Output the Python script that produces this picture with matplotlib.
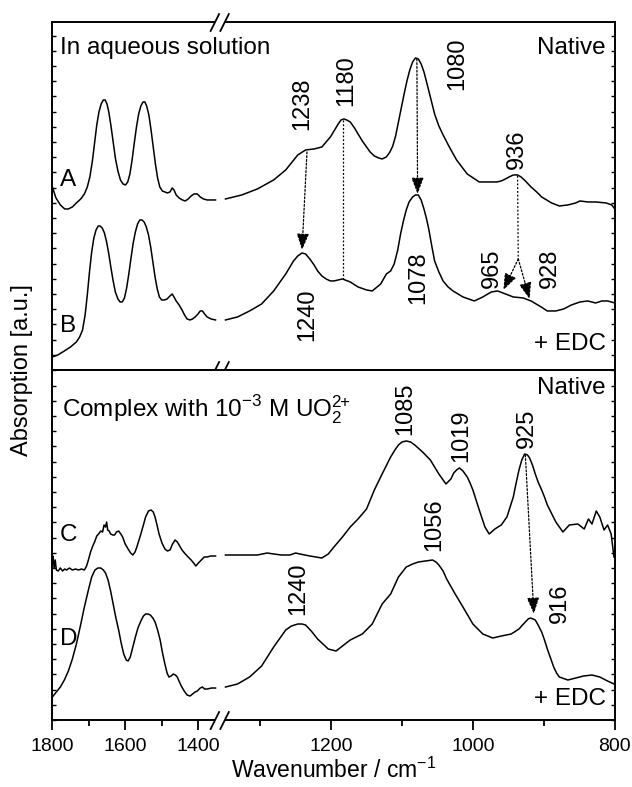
import numpy as np
import matplotlib
matplotlib.use("Agg")
import matplotlib.pyplot as plt
from matplotlib.path import Path

plt.rcParams['font.family'] = ['Liberation Sans', 'DejaVu Sans']
plt.rcParams['mathtext.fontset'] = 'custom'
plt.rcParams['mathtext.rm'] = 'Liberation Sans'

# spectra: wavenumber (cm-1) / absorption (a.u.)
# each trace is split in a part left and a part right of the axis break
a_left_x = [1800, 1790, 1778, 1766, 1756, 1745, 1734, 1722, 1712, 1704, 1697, 1690, 1684, 1678, 1672,
            1666, 1660, 1655, 1650, 1645, 1639, 1633, 1627, 1620, 1613, 1606, 1599, 1593, 1587, 1581,
            1575, 1569, 1563, 1557, 1551, 1546, 1541, 1535, 1529, 1523, 1517, 1511, 1505, 1498, 1491,
            1484, 1477, 1471, 1466, 1460, 1452, 1443, 1435, 1427, 1419, 1411, 1402, 1394, 1385, 1375,
            1362, 1352]
a_left_y = [18.3, 17.2, 16.5, 16.1, 16.1, 16.3, 16.7, 17.1, 17.6, 18.3, 19.3, 20.9, 22.7, 24.5, 25.8,
            26.6, 27.0, 27.0, 26.6, 25.8, 24.4, 22.8, 21.2, 19.9, 19.0, 18.6, 18.5, 18.8, 19.6, 21.0,
            22.7, 24.3, 25.6, 26.4, 26.8, 26.8, 26.4, 25.5, 24.0, 22.3, 20.6, 19.2, 18.3, 17.9, 17.8,
            17.7, 17.8, 18.2, 18.0, 17.5, 17.2, 17.0, 16.9, 17.1, 17.4, 17.6, 17.6, 17.3, 17.1, 17.0,
            17.0, 17.0]
a_right_x = [1349, 1326, 1304, 1281, 1264, 1247, 1236, 1224, 1213, 1201, 1195, 1190, 1186, 1182, 1178,
             1173, 1167, 1162, 1156, 1150, 1145, 1139, 1133, 1128, 1122, 1117, 1113, 1109, 1105, 1101,
             1097, 1093, 1089, 1085, 1081, 1077, 1073, 1069, 1065, 1060, 1054, 1048, 1042, 1034, 1023,
             1008, 991, 974, 966, 960, 954, 949, 943, 937, 932, 926, 918, 910, 903, 889,
             878, 866, 855, 849, 838, 827, 812, 804, 800]
a_right_y = [17.1, 17.5, 18.1, 19.0, 20.0, 21.5, 22.0, 22.1, 22.3, 23.3, 24.0, 24.6, 25.0, 25.1, 25.0,
             24.8, 24.2, 23.6, 22.9, 22.3, 21.8, 21.4, 21.2, 21.1, 21.3, 21.8, 22.4, 23.4, 24.8, 26.2,
             27.6, 28.9, 30.0, 30.8, 31.2, 31.1, 30.6, 29.8, 28.7, 27.3, 25.6, 24.4, 23.5, 22.4, 21.0,
             19.6, 18.8, 18.8, 18.8, 18.9, 19.1, 19.3, 19.5, 19.5, 19.3, 18.9, 18.3, 17.8, 17.3, 16.7,
             16.4, 16.5, 16.7, 16.9, 16.8, 16.8, 16.7, 16.5, 16.1]

b_left_x = [1800, 1785, 1767, 1750, 1734, 1725, 1717, 1710, 1704, 1698, 1692, 1686, 1680, 1674, 1669,
            1663, 1657, 1651, 1645, 1639, 1633, 1627, 1620, 1614, 1608, 1602, 1596, 1590, 1584, 1578,
            1572, 1566, 1560, 1554, 1548, 1542, 1536, 1530, 1524, 1518, 1512, 1506, 1500, 1492, 1485,
            1477, 1471, 1466, 1460, 1452, 1444, 1437, 1430, 1422, 1415, 1408, 1400, 1394, 1388, 1382,
            1375, 1364, 1352]
b_left_y = [1.3, 1.5, 1.9, 2.3, 2.8, 3.3, 4.0, 5.5, 7.5, 9.8, 11.8, 13.2, 14.0, 14.4, 14.4,
            14.2, 13.7, 12.8, 11.6, 10.2, 8.9, 7.8, 7.1, 6.8, 6.8, 7.2, 8.2, 9.6, 11.2, 12.7,
            13.8, 14.6, 15.0, 15.0, 14.8, 14.3, 13.5, 12.3, 10.8, 9.3, 8.1, 7.3, 7.0, 7.0, 7.1,
            7.4, 7.6, 7.3, 6.9, 6.5, 6.0, 5.5, 5.1, 5.0, 5.1, 5.3, 5.6, 5.9, 5.9, 5.6,
            5.3, 5.1, 5.0]
b_right_x = [1349, 1332, 1315, 1298, 1281, 1264, 1258, 1253, 1247, 1241, 1236, 1230, 1224, 1219, 1213,
             1207, 1201, 1196, 1184, 1173, 1162, 1150, 1142, 1130, 1122, 1116, 1111, 1106, 1102, 1098,
             1094, 1090, 1085, 1081, 1077, 1073, 1069, 1065, 1062, 1058, 1054, 1048, 1042, 1035, 1028,
             1014, 998, 986, 974, 965, 954, 943, 929, 918, 906, 895, 883, 872, 861, 849,
             838, 827, 818, 810, 800]
b_right_y = [5.0, 5.3, 5.9, 6.6, 7.9, 9.6, 10.3, 10.9, 11.4, 11.7, 11.6, 11.1, 10.5, 9.9, 9.4,
             9.1, 8.9, 8.9, 9.1, 8.8, 8.3, 8.0, 7.9, 8.6, 9.6, 9.9, 10.6, 12.0, 13.6, 14.9,
             16.0, 16.8, 17.3, 17.5, 17.5, 17.0, 16.1, 15.0, 14.0, 12.4, 10.9, 9.8, 8.9, 8.3, 7.9,
             7.3, 6.9, 7.3, 7.8, 7.9, 7.6, 7.3, 7.2, 6.9, 6.4, 5.9, 5.9, 6.1, 6.5, 6.8,
             6.9, 6.7, 6.9, 6.9, 6.7]

c_left_x = [1800, 1798, 1795, 1792, 1789, 1784, 1778, 1772, 1766, 1761, 1753, 1745, 1736, 1728, 1720,
            1712, 1706, 1701, 1695, 1689, 1684, 1678, 1673, 1667, 1662, 1658, 1654, 1651, 1648, 1644,
            1640, 1634, 1629, 1624, 1618, 1612, 1607, 1600, 1592, 1585, 1579, 1573, 1568, 1562, 1557,
            1550, 1544, 1536, 1529, 1523, 1518, 1512, 1507, 1499, 1491, 1484, 1477, 1470, 1463, 1457,
            1452, 1444, 1435, 1427, 1419, 1412, 1406, 1399, 1391, 1383, 1375, 1365, 1352]
c_left_y = [15.6, 16.4, 15.2, 16.0, 15.0, 14.9, 15.2, 14.9, 15.1, 15.0, 15.2, 15.0, 15.1, 15.0, 15.1,
            15.0, 15.4, 16.0, 16.8, 17.4, 17.8, 18.4, 18.6, 18.9, 18.8, 19.5, 19.3, 19.8, 19.0, 18.9,
            18.6, 18.5, 18.5, 18.8, 18.9, 18.6, 18.3, 17.6, 17.1, 16.7, 16.5, 16.8, 17.3, 18.0, 18.6,
            19.5, 20.3, 20.9, 21.0, 20.8, 20.3, 19.4, 18.6, 17.7, 17.1, 16.9, 17.0, 17.6, 18.0, 17.8,
            17.5, 17.0, 16.6, 16.3, 16.0, 15.7, 15.4, 15.7, 16.0, 16.3, 16.3, 16.4, 16.4]
c_right_x = [1349, 1326, 1304, 1290, 1281, 1270, 1258, 1250, 1244, 1230, 1213, 1204, 1196, 1184, 1173,
             1162, 1150, 1139, 1128, 1116, 1110, 1105, 1100, 1094, 1088, 1082, 1071, 1060, 1048, 1038,
             1031, 1027, 1023, 1019, 1014, 1008, 1004, 1000, 991, 983, 977, 969, 960, 952, 943,
             939, 935, 931, 927, 923, 920, 916, 912, 908, 903, 899, 895, 883, 873, 864,
             852, 843, 837, 832, 826, 821, 815, 810, 805, 801]
c_right_y = [16.5, 16.5, 16.5, 16.7, 16.6, 16.5, 16.5, 16.7, 16.6, 16.4, 16.2, 16.6, 17.3, 18.3, 19.3,
             20.1, 21.1, 23.0, 24.6, 26.3, 27.0, 27.5, 27.8, 27.9, 27.8, 27.5, 26.8, 26.0, 24.6, 23.6,
             24.1, 24.7, 25.0, 25.2, 24.9, 24.3, 23.7, 23.0, 21.0, 19.3, 18.6, 19.1, 19.5, 20.3, 22.3,
             23.7, 25.0, 26.0, 26.6, 26.5, 26.2, 25.5, 24.6, 23.8, 23.0, 22.3, 21.5, 19.8, 18.8, 19.5,
             19.6, 19.1, 20.1, 19.6, 20.9, 20.3, 19.0, 19.5, 18.6, 16.3]

d_left_x = [1800, 1789, 1778, 1767, 1756, 1745, 1734, 1723, 1712, 1701, 1692, 1683, 1675, 1667, 1660,
            1654, 1647, 1640, 1633, 1626, 1618, 1611, 1604, 1597, 1592, 1586, 1579, 1572, 1565, 1557,
            1550, 1544, 1537, 1531, 1524, 1518, 1511, 1504, 1498, 1491, 1485, 1480, 1474, 1468, 1462,
            1457, 1451, 1446, 1438, 1430, 1422, 1415, 1408, 1402, 1394, 1388, 1382, 1375, 1363, 1352]
d_left_y = [2.3, 2.8, 3.3, 4.0, 4.9, 6.1, 7.6, 9.4, 11.3, 13.0, 14.3, 15.0, 15.2, 15.2, 15.0,
            14.7, 14.0, 12.9, 11.6, 10.3, 9.0, 7.7, 6.6, 6.0, 5.9, 6.3, 7.3, 8.3, 9.2, 9.9,
            10.4, 10.6, 10.6, 10.5, 10.2, 9.8, 9.0, 8.0, 6.8, 5.6, 4.7, 4.3, 4.4, 4.6, 4.5,
            4.3, 3.8, 3.4, 2.9, 2.5, 2.4, 2.6, 2.8, 2.9, 3.2, 3.3, 3.1, 3.1, 3.2, 3.2]
d_right_x = [1349, 1332, 1315, 1298, 1281, 1264, 1256, 1247, 1241, 1236, 1228, 1219, 1204, 1193, 1184,
             1173, 1156, 1142, 1128, 1116, 1105, 1094, 1085, 1077, 1067, 1057, 1052, 1048, 1042, 1037,
             1025, 1014, 1000, 986, 972, 960, 946, 935, 930, 926, 922, 919, 915, 912, 908,
             903, 899, 895, 890, 886, 882, 878, 866, 855, 844, 832, 821, 810, 801]
d_right_y = [3.3, 3.6, 4.3, 5.4, 7.3, 9.0, 9.4, 9.6, 9.6, 9.5, 8.9, 8.1, 7.1, 6.9, 7.4,
             8.0, 8.6, 9.6, 11.6, 12.6, 14.3, 15.3, 15.6, 15.8, 15.9, 16.0, 15.8, 15.5, 14.9, 14.1,
             12.6, 11.3, 9.6, 8.6, 8.2, 8.4, 8.6, 9.1, 9.5, 9.8, 10.1, 10.2, 10.1, 10.0, 9.5,
             8.8, 8.0, 7.1, 6.1, 5.3, 4.7, 4.3, 4.0, 4.2, 4.4, 4.5, 4.3, 3.9, 3.6]

# peak labels: (text, wavenumber, height)
top_peaks = [("1238", 1241, 26.6), ("1180", 1178, 28.9), ("1080", 1022, 30.6), ("936", 938, 22.1),
             ("1240", 1233, 5.5), ("1078", 1077, 9.2), ("965", 973, 10.2), ("928", 892, 10.2)]
bottom_peaks = [("1085", 1096, 31.1), ("1019", 1016, 28.4), ("925", 924, 29.2),
                ("1056", 1054, 19.5), ("1240", 1247, 13.1), ("916", 877, 11.7)]


# broken x axis: 1800-1350 is squeezed to about half the scale of 1350-800
def fwd(x):
    x = np.asarray(x, float)
    return np.where(x > 1350, 1593.2 - (1800 - x) * 0.5138, x)


def inv(u):
    u = np.asarray(u, float)
    return np.where(u > 1362, 1800 - (1593.2 - u) / 0.5138, np.minimum(u, 1350))


fig = plt.figure(figsize=(6.32, 7.87), dpi=100)
ax1 = fig.add_axes([0.0828, 0.5299, 0.8898, 0.4422])
ax2 = fig.add_axes([0.0828, 0.0851, 0.8898, 0.4448])

lw = 1.1
for ax, ytop in ((ax1, 34.8), (ax2, 35.0)):
    ax.set_xscale('function', functions=(fwd, inv))
    ax.set_xlim(1800, 800)
    ax.set_ylim(0, ytop)
    ax.set_yticks(np.arange(0, ytop, 1.52))
    ax.tick_params(axis='y', which='both', direction='in', left=True, right=True,
                   labelleft=False, length=3, width=1)
    for s in ax.spines.values():
        s.set_linewidth(1.4)

ax1.tick_params(axis='x', which='both', bottom=False, labelbottom=False)
ax2.set_xticks([1800, 1600, 1400, 1200, 1000, 800])
ax2.set_xticks([1700, 1500, 1300, 1100, 900], minor=True)
ax2.tick_params(axis='x', which='major', direction='out', length=7, width=1.3, labelsize=14, pad=6)
ax2.tick_params(axis='x', which='minor', direction='out', length=4, width=1.3)

ax1.plot(a_left_x, a_left_y, 'k-', lw=lw)
ax1.plot(a_right_x, a_right_y, 'k-', lw=lw)
ax1.plot(b_left_x, b_left_y, 'k-', lw=lw)
ax1.plot(b_right_x, b_right_y, 'k-', lw=lw)
ax2.plot(c_left_x, c_left_y, 'k-', lw=lw)
ax2.plot(c_right_x, c_right_y, 'k-', lw=lw)
ax2.plot(d_left_x, d_left_y, 'k-', lw=lw)
ax2.plot(d_right_x, d_right_y, 'k-', lw=lw)

for ax, peaks in ((ax1, top_peaks), (ax2, bottom_peaks)):
    for txt, x, y in peaks:
        ax.text(x, y, txt, rotation=90, ha='center', va='center', fontsize=17)

fs = 17.5
ax1.text(0.014, 0.924, "In aqueous solution", transform=ax1.transAxes, fontsize=fs, va='center')
ax1.text(0.984, 0.924, "Native", transform=ax1.transAxes, fontsize=fs, va='center', ha='right')
ax1.text(0.014, 0.546, "A", transform=ax1.transAxes, fontsize=fs, va='center')
ax1.text(0.014, 0.126, "B", transform=ax1.transAxes, fontsize=fs, va='center')
ax1.text(0.984, 0.075, "+ EDC", transform=ax1.transAxes, fontsize=fs, va='center', ha='right')
ax2.text(0.017, 0.886,
         r"Complex with 10$^{\mathregular{-3}}$ M UO$_{\mathregular{2}}^{\mathregular{2}\!\!+}$",
         transform=ax2.transAxes, fontsize=fs, va='center')
ax2.text(0.984, 0.949, "Native", transform=ax2.transAxes, fontsize=fs, va='center', ha='right')
ax2.text(0.014, 0.529, "C", transform=ax2.transAxes, fontsize=fs, va='center')
ax2.text(0.014, 0.231, "D", transform=ax2.transAxes, fontsize=fs, va='center')
ax2.text(0.984, 0.060, "+ EDC", transform=ax2.transAxes, fontsize=fs, va='center', ha='right')

# dotted guide lines and arrows between the spectra
dot = dict(color='k', lw=0.9, ls=(0, (1.5, 1.5)))
head = dict(arrowstyle='-|>,head_length=1.0,head_width=0.38', color='k', lw=0.9,
            ls=(0, (1.5, 1.5)), shrinkA=0, shrinkB=0)
ax1.annotate('', xy=(1241, 12.0), xytext=(1234, 21.8), arrowprops=head)
ax1.plot([1183, 1183], [25.0, 9.1], **dot)
ax1.annotate('', xy=(1078, 17.6), xytext=(1079, 31.1), arrowprops=head)
ax1.plot([937, 936], [19.4, 11.1], **dot)
ax1.annotate('', xy=(957, 8.0), xytext=(936, 11.1), arrowprops=head)
ax1.annotate('', xy=(920, 7.1), xytext=(936, 11.1), arrowprops=head)
ax2.annotate('', xy=(914, 10.6), xytext=(926, 26.5), arrowprops=head)

# "//" axis-break marks
slash = Path([(-1.0, -1), (0.0, 1), (0.05, -1), (1.05, 1)],
             [Path.MOVETO, Path.LINETO, Path.MOVETO, Path.LINETO])
gap = Path([(-1.0, -1), (0.05, -1), (1.05, 1), (0.0, 1), (-1.0, -1)])
bx = 0.2964
for ax, yy in ((ax1, 1.0), (ax1, 0.0), (ax2, 0.0)):
    ax.plot([bx], [yy], marker=gap, ms=14, mfc='white', mec='none', transform=ax.transAxes,
            clip_on=False, zorder=5)
    ax.plot([bx], [yy], marker=slash, ms=14, mfc='none', mec='k', mew=1.3, transform=ax.transAxes,
            clip_on=False, zorder=6)

ax2.set_xlabel(r"Wavenumber / cm$^{\mathregular{-1}}$", fontsize=16.5, labelpad=2)
fig.text(0.035, 0.53, "Absorption [a.u.]", rotation=90, fontsize=17, ha='center', va='center')

fig.savefig("out.png", dpi=100)
